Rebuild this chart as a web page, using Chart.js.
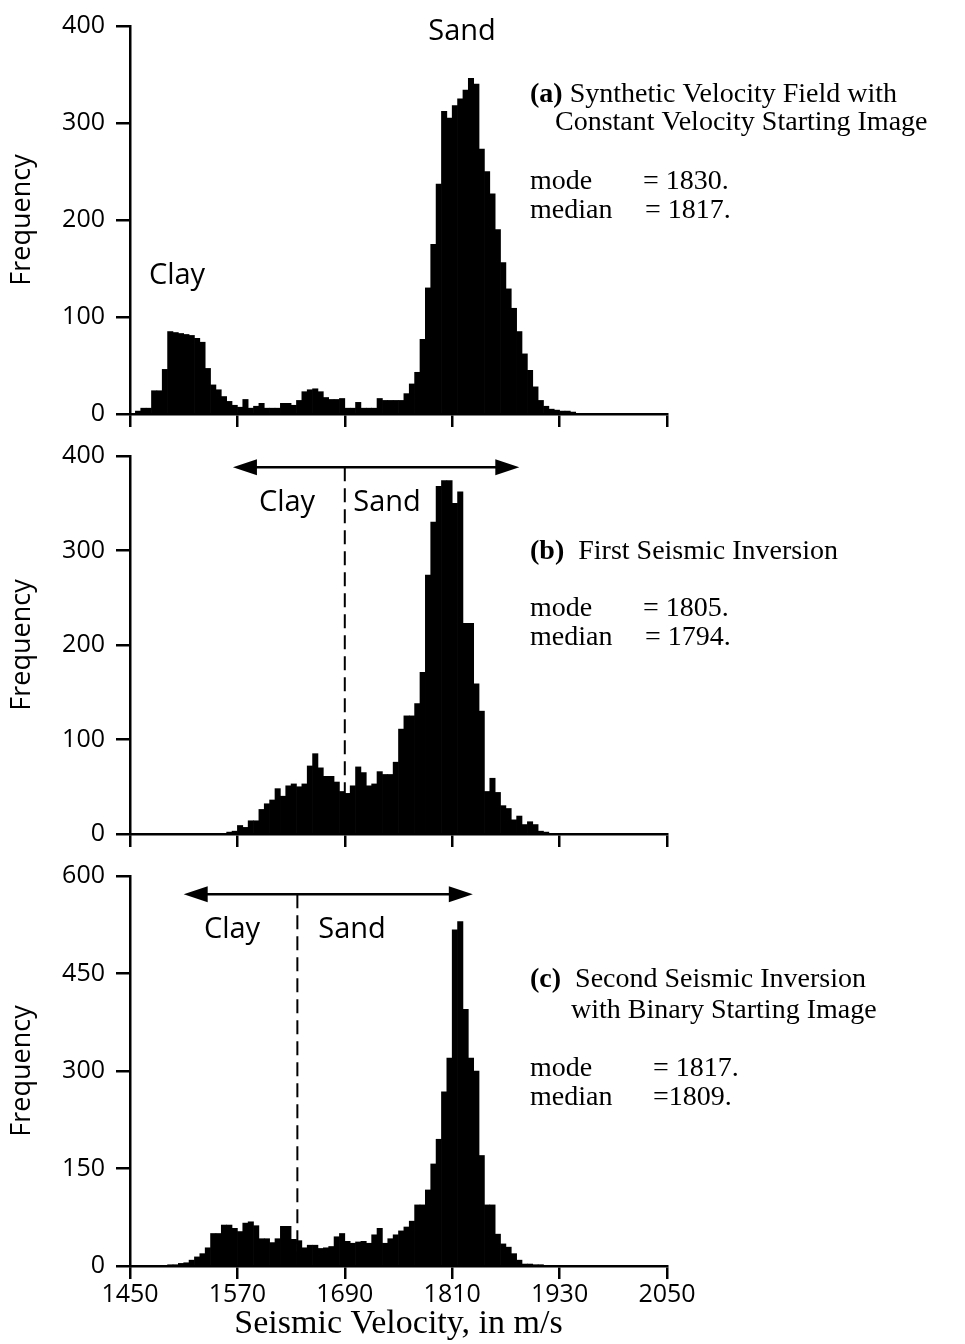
<!DOCTYPE html>
<html>
<head>
<meta charset="utf-8">
<script src="https://cdn.jsdelivr.net/npm/chart.js@4.4.1/dist/chart.umd.min.js"></script>
<style>
  html, body { margin: 0; padding: 0; background: #fff; }
  #page { position: relative; width: 965px; height: 1344px; }
  canvas { position: absolute; left: 0; }
</style>
</head>
<body>
<div id="page">
  <canvas id="panel-a" width="965" height="440" style="top:0px"></canvas>
  <canvas id="panel-b" width="965" height="430" style="top:430px"></canvas>
  <canvas id="panel-c" width="965" height="494" style="top:850px"></canvas>
</div>
<script>
// histogram bins: 6 m/s wide, from 1450 to 2050
var BIN_START = 1450, BIN_WIDTH = 6, BIN_COUNT = 100;
var binCenters = [];
for (var i = 0; i < BIN_COUNT; i++) {
    binCenters.push(BIN_START + BIN_WIDTH * i + BIN_WIDTH / 2);
}

var velocityTicks = [1450, 1570, 1690, 1810, 1930, 2050];
var freqTicksAB = [0, 100, 200, 300, 400];
var freqTicksC = [0, 150, 300, 450, 600];

// (a) synthetic velocity field
var countsA = [
    0, 3, 6, 6, 24, 24, 46, 85, 84, 83, 82, 81, 78, 74, 47, 30, 25, 18, 13, 9,
    7, 15, 6, 8, 11, 6, 6, 6, 11, 11, 9, 14, 23, 25, 26, 23, 17, 15, 15, 16,
    6, 6, 12, 6, 6, 6, 16, 14, 14, 14, 14, 21, 31, 43, 77, 130, 175, 237, 312, 305,
    318, 325, 334, 346, 340, 273, 250, 227, 190, 156, 129, 109, 85, 62, 45, 28, 14, 8, 5, 4,
    3, 3, 2, 0, 0, 0, 0, 0, 0, 0, 0, 0, 0, 0, 0, 0, 0, 0, 0, 0
];
// (b) first seismic inversion
var countsB = [
    0, 0, 0, 0, 0, 0, 0, 0, 0, 0, 0, 0, 0, 0, 0, 0, 0, 0, 2, 3,
    9, 7, 14, 14, 26, 32, 36, 48, 40, 51, 53, 50, 53, 72, 85, 70, 61, 61, 55, 45,
    43, 51, 71, 65, 51, 53, 66, 63, 63, 76, 111, 125, 125, 138, 171, 274, 330, 368, 374, 374,
    350, 362, 223, 223, 159, 130, 45, 59, 44, 30, 27, 15, 19, 10, 13, 10, 3, 2, 0, 0,
    0, 0, 0, 0, 0, 0, 0, 0, 0, 0, 0, 0, 0, 0, 0, 0, 0, 0, 0, 0
];
// (c) second seismic inversion
var countsC = [
    0, 0, 0, 0, 0, 0, 0, 1, 2, 4, 5, 9, 14, 19, 28, 50, 50, 63, 63, 58,
    53, 66, 68, 62, 42, 42, 36, 42, 61, 61, 41, 39, 28, 32, 32, 27, 28, 30, 45, 50,
    38, 35, 37, 38, 35, 48, 58, 35, 42, 48, 54, 60, 69, 94, 94, 117, 157, 195, 268, 320,
    517, 530, 395, 320, 300, 170, 94, 94, 49, 34, 29, 19, 9, 3, 3, 2, 2, 0, 0, 0,
    0, 0, 0, 0, 0, 0, 0, 0, 0, 0, 0, 0, 0, 0, 0, 0, 0, 0, 0, 0
];

var SANS = '"Open Sans", "DejaVu Sans", sans-serif';
var SERIF = '"Liberation Serif", serif';
var TEXT_FONT = '28px ' + SERIF;
var BOLD_FONT = 'bold 28px ' + SERIF;
var WORD_FONT = '29px ' + SANS;

// arrows, the clay/sand divider and the text blocks
var notesPlugin = {
    id: 'notes',
    afterDraw: function (chart, args, opts) {
        var ctx = chart.ctx,
            xs = chart.scales.x,
            ys = chart.scales.y;

        ctx.save();
        ctx.fillStyle = '#000';
        ctx.strokeStyle = '#000';

        if (opts.divider) {
            var dx = xs.getPixelForValue(opts.divider.x);
            ctx.lineWidth = 2;
            ctx.setLineDash([14, 7]);
            ctx.beginPath();
            ctx.moveTo(dx, ys.getPixelForValue(opts.divider.top));
            ctx.lineTo(dx, ys.getPixelForValue(0));
            ctx.stroke();
            ctx.setLineDash([]);
        }

        if (opts.arrow) {
            var a = opts.arrow,
                x0 = xs.getPixelForValue(a.from),
                x1 = xs.getPixelForValue(a.to),
                ay = ys.getPixelForValue(a.y),
                head = 24, half = 8;
            ctx.lineWidth = 2.5;
            ctx.beginPath();
            ctx.moveTo(x0 + head - 2, ay);
            ctx.lineTo(x1 - head + 2, ay);
            ctx.stroke();
            ctx.beginPath();
            ctx.moveTo(x0, ay);
            ctx.lineTo(x0 + head, ay - half);
            ctx.lineTo(x0 + head, ay + half);
            ctx.closePath();
            ctx.fill();
            ctx.beginPath();
            ctx.moveTo(x1, ay);
            ctx.lineTo(x1 - head, ay - half);
            ctx.lineTo(x1 - head, ay + half);
            ctx.closePath();
            ctx.fill();
        }

        ctx.textBaseline = 'alphabetic';
        (opts.labels || []).forEach(function (t) {
            var x = t.x;
            ctx.textAlign = t.align || 'left';
            if (t.bold) {
                ctx.font = BOLD_FONT;
                ctx.fillText(t.bold, x, t.y);
                x += ctx.measureText(t.bold).width;
            }
            ctx.font = t.font || TEXT_FONT;
            ctx.fillText(t.text, x, t.y);
        });
        ctx.restore();
    }
};

function makePanel(canvasId, counts, freqTicks, cfg) {
    var data = counts.map(function (c, i) {
        return { x: binCenters[i], y: c };
    });

    return new Chart(canvasId, {
        type: 'bar',
        data: {
            datasets: [{
                data: data,
                backgroundColor: '#000',
                borderWidth: 0,
                barPercentage: 1,
                categoryPercentage: 1
            }]
        },
        plugins: [notesPlugin],
        options: {
            responsive: false,
            animation: false,
            devicePixelRatio: 1,
            layout: { padding: { left: 0, right: 298, top: cfg.top, bottom: 0 } },
            plugins: {
                legend: { display: false },
                tooltip: { enabled: false },
                notes: cfg.notes
            },
            scales: {
                x: {
                    type: 'linear',
                    min: velocityTicks[0],
                    max: velocityTicks[velocityTicks.length - 1],
                    offset: false,
                    afterBuildTicks: function (scale) {
                        scale.ticks = velocityTicks.map(function (v) { return { value: v }; });
                    },
                    afterFit: function (scale) { scale.height = cfg.xHeight; },
                    grid: {
                        offset: false,
                        drawOnChartArea: false,
                        drawTicks: true,
                        tickLength: 13,
                        color: '#000',
                        lineWidth: 2.5
                    },
                    border: { display: true, color: '#000', width: 2.5 },
                    ticks: {
                        display: cfg.xLabels,
                        color: '#000',
                        padding: 1,
                        font: { family: SANS, size: 25 },
                        callback: function (v) { return String(v); }
                    },
                    title: {
                        display: cfg.xLabels,
                        text: 'Seismic Velocity, in m/s',
                        color: '#000',
                        font: { family: SERIF, size: 34 },
                        padding: { top: 0, bottom: 0 }
                    }
                },
                y: {
                    type: 'linear',
                    min: freqTicks[0],
                    max: freqTicks[freqTicks.length - 1],
                    afterBuildTicks: function (scale) {
                        scale.ticks = freqTicks.map(function (v) { return { value: v }; });
                    },
                    afterFit: function (scale) { scale.width = 130; },
                    grid: {
                        drawOnChartArea: false,
                        drawTicks: true,
                        tickLength: 14,
                        color: '#000',
                        lineWidth: 2.5
                    },
                    border: { display: true, color: '#000', width: 2.5 },
                    ticks: {
                        color: '#000',
                        padding: 11,
                        font: { family: SANS, size: 25 },
                        callback: function (v) { return String(v); }
                    },
                    title: {
                        display: true,
                        text: 'Frequency',
                        color: '#000',
                        font: { family: SANS, size: 27 },
                        padding: { top: 6, bottom: 0 }
                    }
                }
            }
        }
    });
}

makePanel('panel-a', countsA, freqTicksAB, {
    top: 20, xHeight: 26, xLabels: false,
    notes: {
        labels: [
            { bold: '(a)', text: ' Synthetic Velocity Field with', x: 530, y: 102 },
            { text: 'Constant Velocity Starting Image', x: 555, y: 130 },
            { text: 'mode', x: 530, y: 189 },
            { text: '= 1830.', x: 643, y: 189 },
            { text: 'median', x: 530, y: 218 },
            { text: '= 1817.', x: 645, y: 218 },
            { text: 'Sand', x: 462, y: 40, align: 'center', font: WORD_FONT },
            { text: 'Clay', x: 177, y: 284, align: 'center', font: WORD_FONT }
        ]
    }
});

makePanel('panel-b', countsB, freqTicksAB, {
    top: 19, xHeight: 17, xLabels: false,
    notes: {
        arrow: { from: 1565, to: 1885, y: 388 },
        divider: { x: 1690, top: 388 },
        labels: [
            { bold: '(b)', text: '  First Seismic Inversion', x: 530, y: 559 - 430 },
            { text: 'mode', x: 530, y: 616 - 430 },
            { text: '= 1805.', x: 643, y: 616 - 430 },
            { text: 'median', x: 530, y: 645 - 430 },
            { text: '= 1794.', x: 645, y: 645 - 430 },
            { text: 'Clay', x: 287, y: 81, align: 'center', font: WORD_FONT },
            { text: 'Sand', x: 387, y: 81, align: 'center', font: WORD_FONT }
        ]
    }
});

makePanel('panel-c', countsC, freqTicksC, {
    top: 18, xHeight: 78, xLabels: true,
    notes: {
        arrow: { from: 1510, to: 1833, y: 572 },
        divider: { x: 1637, top: 572 },
        labels: [
            { bold: '(c)', text: '  Second Seismic Inversion', x: 530, y: 987 - 850 },
            { text: 'with Binary Starting Image', x: 571, y: 1018 - 850 },
            { text: 'mode', x: 530, y: 1076 - 850 },
            { text: '= 1817.', x: 653, y: 1076 - 850 },
            { text: 'median', x: 530, y: 1105 - 850 },
            { text: '=1809.', x: 653, y: 1105 - 850 },
            { text: 'Clay', x: 232, y: 88, align: 'center', font: WORD_FONT },
            { text: 'Sand', x: 352, y: 88, align: 'center', font: WORD_FONT }
        ]
    }
});
</script>
</body>
</html>
